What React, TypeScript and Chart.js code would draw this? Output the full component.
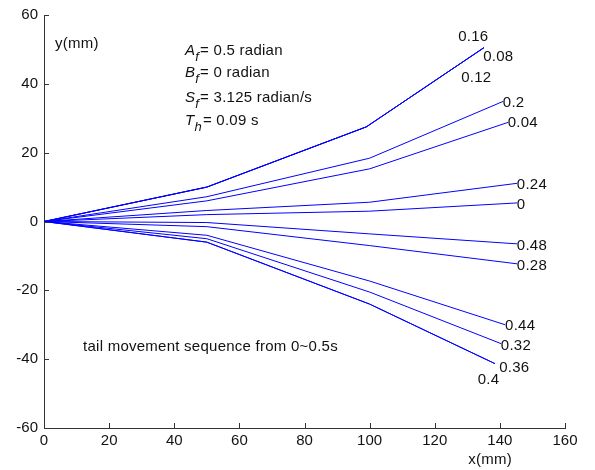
import React, { useEffect, useRef } from 'react';
import { Chart, registerables } from 'chart.js';

Chart.register(...registerables);

// tail movement times (s), one curve each
const times = ['0', '0.04', '0.08', '0.12', '0.16', '0.2', '0.24', '0.28', '0.32', '0.36', '0.4', '0.44', '0.48'];

// x (mm) of joints along the tail for each curve
const xPoints = [
  [0, 50, 100, 145.3],
  [0, 50, 100, 142.5],
  [0, 50, 99, 135.1],
  [0, 50, 99, 135.1],
  [0, 50, 99, 135.1],
  [0, 50, 100, 141],
  [0, 50, 100, 145.3],
  [0, 50, 100, 145.3],
  [0, 50, 100, 140.4],
  [0, 50, 100, 138.5],
  [0, 50, 100, 138.5],
  [0, 50, 100, 141.6],
  [0, 50, 100, 145.3],
];

// y (mm) of joints for each curve
const yPoints = [
  [0, 2, 3, 5.4],
  [0, 6, 15.3, 28.8],
  [0, 10, 27.5, 50.5],
  [0, 10, 27.5, 50.5],
  [0, 10, 27.5, 50.5],
  [0, 7.2, 18.4, 34.9],
  [0, 3.2, 5.6, 11.1],
  [0, -1.5, -7, -12.3],
  [0, -5, -20.5, -35.5],
  [0, -6, -24, -41.3],
  [0, -6, -24, -41.3],
  [0, -4, -17.3, -30],
  [0, -0.3, -3.6, -6.5],
];

// label anchors (data units) for each curve's time label
const labelX = [145.2, 142.4, 134.9, 128.1, 127.2, 140.9, 145.2, 145.2, 140.3, 139.8, 133.2, 141.6, 145.2];
const labelY = [5.3, 28.9, 48.3, 42.0, 54.0, 34.7, 11.1, -12.6, -35.7, -42.2, -45.6, -30.1, -6.7];

const xTicks = [0, 20, 40, 60, 80, 100, 120, 140, 160];
const yTicks = [-60, -40, -20, 0, 20, 40, 60];

const FONT = '"Liberation Sans", Arial, sans-serif';
const TEXT = '#111111';
const AXIS = '#333333';

type Part = { t: string; it?: boolean; sub?: boolean };

const paramRows: Part[][] = [
  [{ t: 'A', it: true }, { t: 'f', it: true, sub: true }, { t: '= 0.5 radian' }],
  [{ t: 'B', it: true }, { t: 'f', it: true, sub: true }, { t: '= 0 radian' }],
  [{ t: 'S', it: true }, { t: 'f', it: true, sub: true }, { t: '= 3.125 radian/s' }],
  [{ t: 'T', it: true }, { t: 'h', it: true, sub: true }, { t: '= 0.09 s' }],
];
const paramRowY = [48.5, 42.0, 34.8, 28.0];

const overlay = {
  id: 'overlay',
  afterDraw(chart: any) {
    const { ctx, chartArea } = chart;
    const xs = chart.scales.x;
    const ys = chart.scales.y;
    ctx.save();
    // inward tick marks
    ctx.strokeStyle = AXIS;
    ctx.lineWidth = 1;
    ctx.beginPath();
    xTicks.forEach((v) => {
      const px = Math.round(xs.getPixelForValue(v)) + 0.5;
      ctx.moveTo(px, chartArea.bottom);
      ctx.lineTo(px, chartArea.bottom - 5);
    });
    yTicks.forEach((v) => {
      const py = Math.round(ys.getPixelForValue(v)) + 0.5;
      ctx.moveTo(chartArea.left, py);
      ctx.lineTo(chartArea.left + 5, py);
    });
    ctx.stroke();

    ctx.fillStyle = TEXT;
    ctx.font = `15px ${FONT}`;
    (ctx as any).letterSpacing = '0.25px';
    ctx.textAlign = 'left';
    ctx.textBaseline = 'alphabetic';
    // curve labels, vertically centred on anchor
    times.forEach((t, i) => {
      const px = xs.getPixelForValue(labelX[i]);
      const py = ys.getPixelForValue(labelY[i]) + 5.4;
      ctx.fillText(t, px, py);
    });

    // y(mm)
    ctx.fillText('y(mm)', xs.getPixelForValue(3.4), ys.getPixelForValue(50.5));
    // tail movement text
    ctx.fillText('tail movement sequence from 0~0.5s', xs.getPixelForValue(12.0), ys.getPixelForValue(-37.5));
    // x(mm)
    ctx.textAlign = 'center';
    ctx.fillText('x(mm)', xs.getPixelForValue(137), chartArea.bottom + 35.5);
    ctx.textAlign = 'left';

    // parameter rows
    paramRows.forEach((row, r) => {
      let x = xs.getPixelForValue(43.3);
      const base = ys.getPixelForValue(paramRowY[r]);
      row.forEach((p) => {
        const size = p.sub ? 13 : 15;
        ctx.font = `${p.it ? 'italic ' : ''}${size}px ${FONT}`;
        const y = p.sub ? base + 6 : base;
        ctx.fillText(p.t, x, y);
        x += ctx.measureText(p.t).width + (p.sub ? 1 : 0);
      });
    });
    (ctx as any).letterSpacing = '0px';
    ctx.restore();
  },
};

export default function App() {
  const ref = useRef<HTMLCanvasElement | null>(null);
  useEffect(() => {
    if (!ref.current) return;
    const datasets = times.map((t, i) => ({
      label: t,
      data: xPoints[i].map((x, j) => ({ x, y: yPoints[i][j] })),
      borderColor: '#0000ff',
      borderWidth: 1,
      pointRadius: 0,
      tension: 0,
      fill: false,
    }));
    const chart = new Chart(ref.current, {
      type: 'line',
      data: { datasets },
      options: {
        responsive: false,
        animation: false,
        events: [],
        layout: { padding: { left: 0, top: 13, right: 30, bottom: 0 } },
        plugins: { legend: { display: false }, tooltip: { enabled: false } },
        scales: {
          x: {
            type: 'linear',
            min: 0,
            max: 160,
            afterFit: (s: any) => { s.height = 42; },
            afterBuildTicks: (s: any) => { s.ticks = xTicks.map((v) => ({ value: v })); },
            grid: { display: false, drawTicks: false },
            border: { display: true, color: AXIS, width: 1 },
            ticks: {
              autoSkip: false,
              maxRotation: 0,
              padding: 4,
              color: TEXT,
              font: { family: FONT, size: 15 },
            },
          },
          y: {
            type: 'linear',
            min: -60,
            max: 60,
            afterFit: (s: any) => { s.width = 44; },
            afterBuildTicks: (s: any) => { s.ticks = yTicks.map((v) => ({ value: v })); },
            grid: { display: false, drawTicks: false },
            border: { display: true, color: AXIS, width: 1 },
            ticks: {
              autoSkip: false,
              padding: 6,
              color: TEXT,
              font: { family: FONT, size: 15 },
            },
          },
        },
      },
      plugins: [overlay],
    });
    return () => chart.destroy();
  }, []);
  return (
    <div style={{ position: 'absolute', left: 0, top: 0, width: 595, height: 470, background: '#fff' }}>
      <canvas ref={ref} width={595} height={470} />
    </div>
  );
}
